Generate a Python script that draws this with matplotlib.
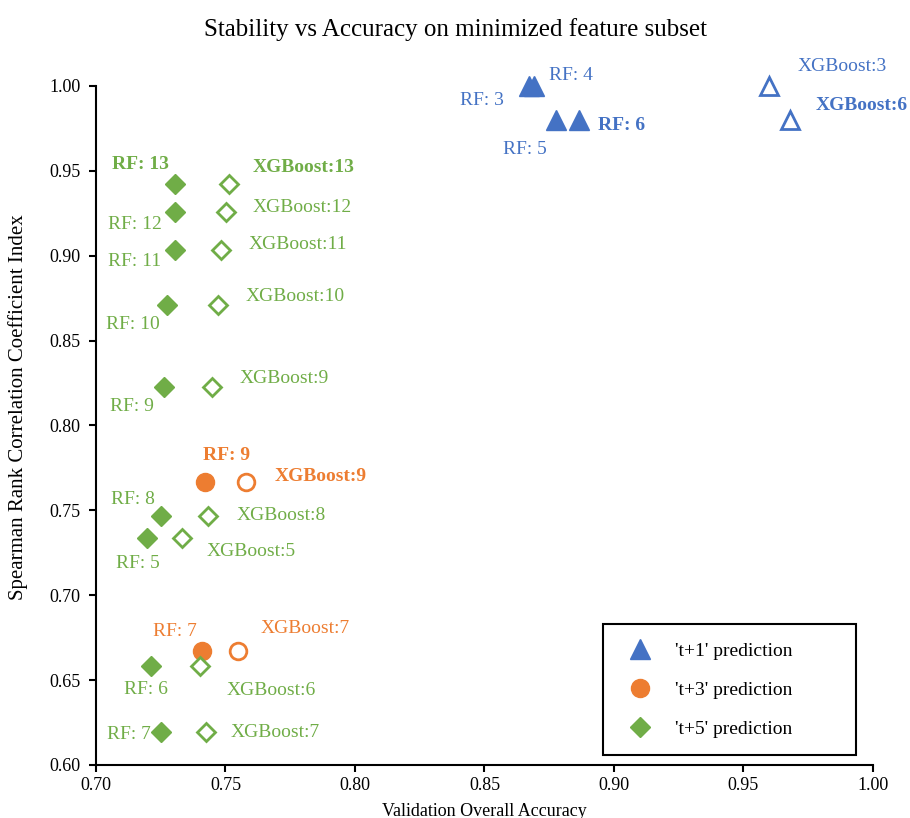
import matplotlib
matplotlib.use("Agg")
import matplotlib.pyplot as plt

plt.rcParams['font.family'] = ['Liberation Serif', 'DejaVu Serif']

BLUE = '#4472C4'
ORANGE = '#ED7D31'
GREEN = '#70AD47'

# t+1 prediction
t1_rf_x = [0.867, 0.869, 0.8776, 0.8865]
t1_rf_y = [1.00, 1.00, 0.98, 0.98]
t1_rf_lab = ['RF: 3', 'RF: 4', 'RF: 5', 'RF: 6']
t1_xgb_x = [0.960, 0.968]
t1_xgb_y = [1.00, 0.98]
t1_xgb_lab = ['XGBoost:3', 'XGBoost:6']

# t+3 prediction
t3_rf_x = [0.742, 0.741]
t3_rf_y = [0.767, 0.667]
t3_rf_lab = ['RF: 9', 'RF: 7']
t3_xgb_x = [0.758, 0.755]
t3_xgb_y = [0.767, 0.667]
t3_xgb_lab = ['XGBoost:9', 'XGBoost:7']

# t+5 prediction
t5_rf_x = [0.7305, 0.7305, 0.7305, 0.7274, 0.7263, 0.7251, 0.7197, 0.7212, 0.7251]
t5_rf_y = [0.942, 0.9257, 0.9034, 0.871, 0.8227, 0.7467, 0.7337, 0.6583, 0.6194]
t5_rf_lab = ['RF: 13', 'RF: 12', 'RF: 11', 'RF: 10', 'RF: 9', 'RF: 8', 'RF: 5', 'RF: 6', 'RF: 7']
t5_xgb_x = [0.7514, 0.7502, 0.7483, 0.7471, 0.7448, 0.7432, 0.7332, 0.7402, 0.7425]
t5_xgb_y = [0.942, 0.9257, 0.9034, 0.871, 0.8227, 0.7467, 0.7337, 0.6583, 0.6194]
t5_xgb_lab = ['XGBoost:13', 'XGBoost:12', 'XGBoost:11', 'XGBoost:10', 'XGBoost:9',
              'XGBoost:8', 'XGBoost:5', 'XGBoost:6', 'XGBoost:7']

# label placement: (dx, dy in pixels, ha, bold)
t1_rf_pos = [(-25, -15, 'right', False), (15, 10, 'left', False),
             (-31, -30, 'center', False), (19, -6, 'left', True)]
t1_xgb_pos = [(28, 19, 'left', False), (26, 14, 'left', True)]
t3_rf_pos = [(22, 26, 'center', True), (-27, 20, 'center', False)]
t3_xgb_pos = [(28, 5, 'left', True), (22, 23, 'left', False)]
t5_rf_pos = [(-35, 20, 'center', True), (-40, -12, 'center', False), (-40, -12, 'center', False),
             (-34, -20, 'center', False), (-32, -20, 'center', False), (-28, 16, 'center', False),
             (-9, -25, 'center', False), (-5, -23, 'center', False), (-32, -2, 'center', False)]
t5_xgb_pos = [(24, 17, 'left', True), (27, 5, 'left', False), (27, 5, 'left', False),
              (28, 8, 'left', False), (28, 8, 'left', False), (29, 0, 'left', False),
              (25, -13, 'left', False), (26, -24, 'left', False), (25, 0, 'left', False)]

fig = plt.figure(figsize=(9.1, 8.18), dpi=100)
ax = fig.add_axes([0.1055, 0.0648, 0.8538, 0.8301])


def draw(xs, ys, labels, pos, color, marker, ms, filled):
    if filled:
        ax.plot(xs, ys, linestyle='none', marker=marker, ms=ms, color=color,
                mec=color, clip_on=False, zorder=3)
    else:
        ax.plot(xs, ys, linestyle='none', marker=marker, ms=ms, mfc='white',
                mec=color, mew=2, clip_on=False, zorder=3)
    for x, y, lab, (dx, dy, ha, bold) in zip(xs, ys, labels, pos):
        ax.annotate(lab, (x, y), xytext=(dx, dy), textcoords='offset pixels',
                    ha=ha, va='center', color=color, fontsize=14,
                    fontweight='bold' if bold else 'normal')


draw(t1_rf_x, t1_rf_y, t1_rf_lab, t1_rf_pos, BLUE, '^', 15, True)
draw(t1_xgb_x, t1_xgb_y, t1_xgb_lab, t1_xgb_pos, BLUE, '^', 13, False)
draw(t3_rf_x, t3_rf_y, t3_rf_lab, t3_rf_pos, ORANGE, 'o', 13, True)
draw(t3_xgb_x, t3_xgb_y, t3_xgb_lab, t3_xgb_pos, ORANGE, 'o', 12, False)
draw(t5_rf_x, t5_rf_y, t5_rf_lab, t5_rf_pos, GREEN, 'D', 10, True)
draw(t5_xgb_x, t5_xgb_y, t5_xgb_lab, t5_xgb_pos, GREEN, 'D', 9, False)

ax.set_xlim(0.70, 1.00)
ax.set_ylim(0.60, 1.00)
ax.set_xticks([0.70, 0.75, 0.80, 0.85, 0.90, 0.95, 1.00])
ax.set_yticks([0.60, 0.65, 0.70, 0.75, 0.80, 0.85, 0.90, 0.95, 1.00])
ax.xaxis.set_major_formatter(matplotlib.ticker.FormatStrFormatter('%.2f'))
ax.yaxis.set_major_formatter(matplotlib.ticker.FormatStrFormatter('%.2f'))
ax.tick_params(labelsize=13, direction='out', length=5, width=1.5)
ax.tick_params(axis='x', pad=4)
ax.tick_params(axis='y', pad=6)
ax.spines['top'].set_visible(False)
ax.spines['right'].set_visible(False)
ax.spines['left'].set_linewidth(1.5)
ax.spines['bottom'].set_linewidth(1.5)

ax.set_xlabel('Validation Overall Accuracy', fontsize=13, labelpad=6)
ax.set_ylabel('Spearman Rank Correlation Coefficient Index', fontsize=15)
ax.yaxis.set_label_coords(-0.088, 0.527)
fig.suptitle('Stability vs Accuracy on minimized feature subset', fontsize=18, y=0.978)

handles = [
    plt.Line2D([], [], linestyle='none', marker='^', ms=15, color=BLUE),
    plt.Line2D([], [], linestyle='none', marker='o', ms=13, color=ORANGE),
    plt.Line2D([], [], linestyle='none', marker='D', ms=10, color=GREEN),
]
leg = ax.legend(handles, ["'t+1' prediction", "'t+3' prediction", "'t+5' prediction"],
                loc='lower left', bbox_to_anchor=(0.6525, 0.0147, 0.3255, 0.19),
                mode='expand', fontsize=14,
                fancybox=False, edgecolor='black', framealpha=1,
                borderpad=0.9, labelspacing=1.1, handletextpad=0.8, borderaxespad=0)
leg.get_frame().set_linewidth(1.5)

fig.savefig('out.png', dpi=100)
